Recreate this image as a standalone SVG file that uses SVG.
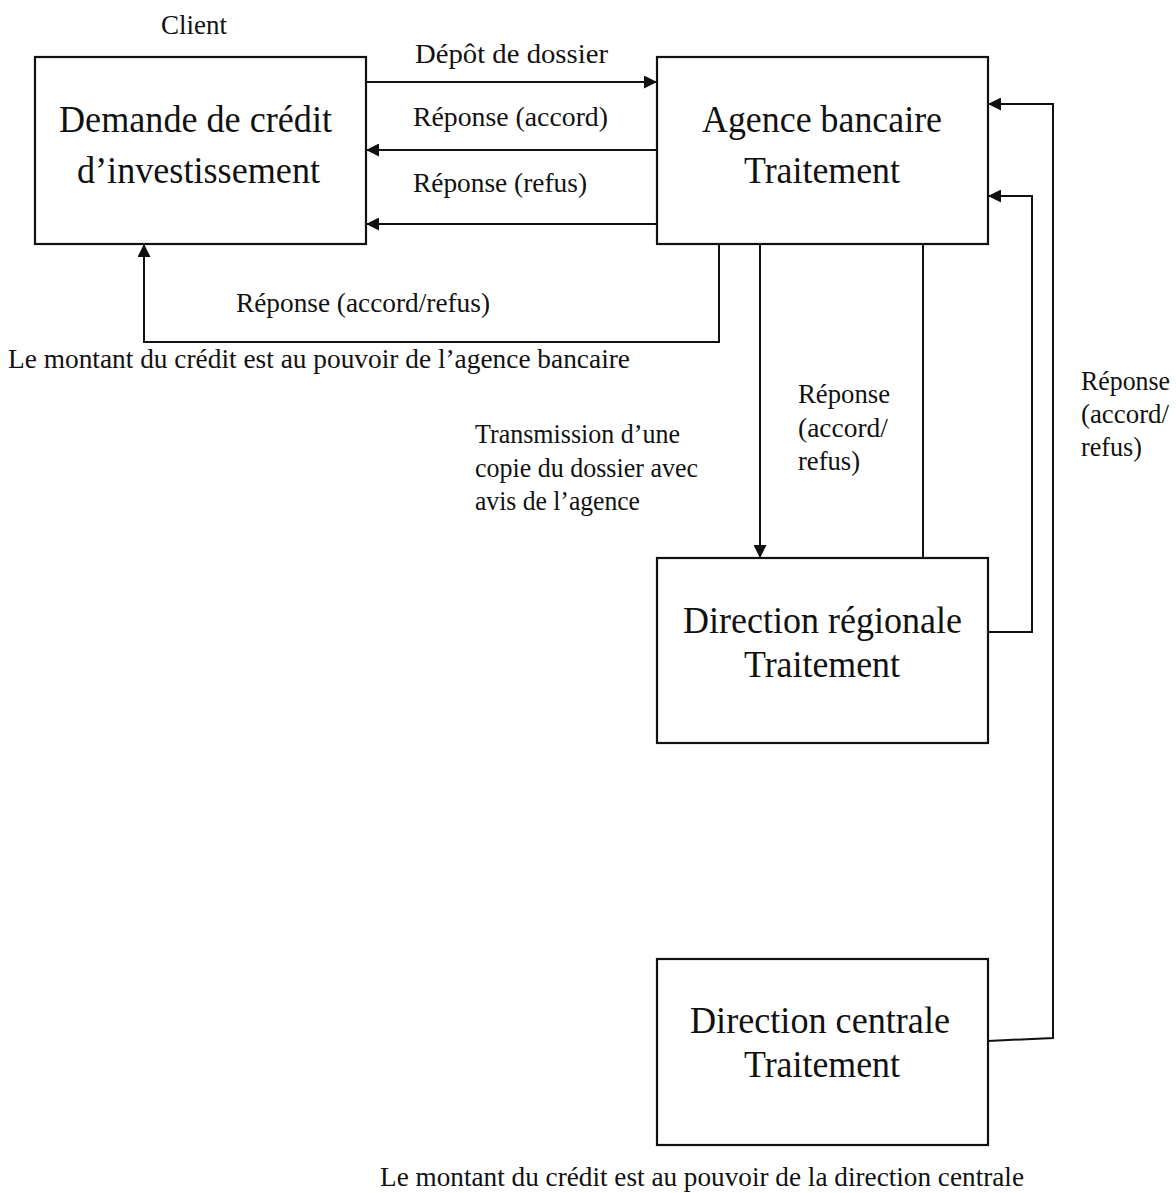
<svg xmlns="http://www.w3.org/2000/svg" width="1176" height="1193" viewBox="0 0 1176 1193">
<style>
.box{fill:#fff;stroke:#111;stroke-width:2.2}
.c{fill:none;stroke:#111;stroke-width:2}
text{font-family:"Liberation Serif","Times New Roman",serif;fill:#111}
.t{font-size:28px}
.n{font-size:37px}
</style>
<defs>
<marker id="ah" markerUnits="userSpaceOnUse" markerWidth="14" markerHeight="13" refX="13" refY="6.5" orient="auto">
<path d="M0,0 L13,6.5 L0,13 z" fill="#111"/>
</marker>
</defs>
<rect width="1176" height="1193" fill="#fff"/>

<g id="client">
<text class="t" x="161" y="34" textLength="66" lengthAdjust="spacingAndGlyphs">Client</text>
<rect class="box" x="35" y="57" width="331" height="187"/>
<text class="n" x="59" y="132" textLength="273" lengthAdjust="spacingAndGlyphs">Demande de crédit</text>
<text class="n" x="77" y="183" textLength="243" lengthAdjust="spacingAndGlyphs">d’investissement</text>
</g>

<g id="agence">
<rect class="box" x="657" y="57" width="331" height="187"/>
<text class="n" x="702" y="132" textLength="240" lengthAdjust="spacingAndGlyphs">Agence bancaire</text>
<text class="n" x="744" y="183" textLength="156" lengthAdjust="spacingAndGlyphs">Traitement</text>
</g>

<g id="regionale">
<rect class="box" x="657" y="558" width="331" height="185"/>
<text class="n" x="683" y="633" textLength="279" lengthAdjust="spacingAndGlyphs">Direction régionale</text>
<text class="n" x="744" y="677" textLength="156" lengthAdjust="spacingAndGlyphs">Traitement</text>
</g>

<g id="centrale">
<rect class="box" x="657" y="959" width="331" height="186"/>
<text class="n" x="690" y="1033" textLength="260" lengthAdjust="spacingAndGlyphs">Direction centrale</text>
<text class="n" x="744" y="1077" textLength="156" lengthAdjust="spacingAndGlyphs">Traitement</text>
</g>

<g id="connectors">
<path class="c" d="M366,82 H657" marker-end="url(#ah)"/>
<path class="c" d="M657,150 H366" marker-end="url(#ah)"/>
<path class="c" d="M657,224 H366" marker-end="url(#ah)"/>
<path class="c" d="M719,244 V342 H144 V244" marker-end="url(#ah)"/>
<path class="c" d="M760,244 V558" marker-end="url(#ah)"/>
<path class="c" d="M923,244 V558"/>
<path class="c" d="M988,632 H1032 V196 H988" marker-end="url(#ah)"/>
<path class="c" d="M988,1041 L1053,1038 V104 H988" marker-end="url(#ah)"/>
</g>

<g id="labels">
<text class="t" x="415" y="63" textLength="193" lengthAdjust="spacingAndGlyphs">Dépôt  de  dossier</text>
<text class="t" x="413" y="126" textLength="195" lengthAdjust="spacingAndGlyphs">Réponse  (accord)</text>
<text class="t" x="413" y="192" textLength="174" lengthAdjust="spacingAndGlyphs">Réponse (refus)</text>
<text class="t" x="236" y="312" textLength="254" lengthAdjust="spacingAndGlyphs">Réponse (accord/refus)</text>
<text class="t" x="8" y="368" textLength="622" lengthAdjust="spacingAndGlyphs">Le montant du crédit est au pouvoir de l’agence bancaire</text>
<text class="t" x="798" y="403" textLength="92" lengthAdjust="spacingAndGlyphs">Réponse</text>
<text class="t" x="798" y="437" textLength="90" lengthAdjust="spacingAndGlyphs">(accord/</text>
<text class="t" x="798" y="470" textLength="62" lengthAdjust="spacingAndGlyphs">refus)</text>
<text class="t" x="475" y="443" textLength="205" lengthAdjust="spacingAndGlyphs">Transmission d’une</text>
<text class="t" x="475" y="477" textLength="223" lengthAdjust="spacingAndGlyphs">copie du dossier avec</text>
<text class="t" x="475" y="510" textLength="165" lengthAdjust="spacingAndGlyphs">avis de l’agence</text>
<text class="t" x="1081" y="390" textLength="89" lengthAdjust="spacingAndGlyphs">Réponse</text>
<text class="t" x="1081" y="423" textLength="88" lengthAdjust="spacingAndGlyphs">(accord/</text>
<text class="t" x="1081" y="456" textLength="61" lengthAdjust="spacingAndGlyphs">refus)</text>
<text class="t" x="380" y="1186" textLength="644" lengthAdjust="spacingAndGlyphs">Le montant du crédit est au pouvoir de la direction centrale</text>
</g>
</svg>
